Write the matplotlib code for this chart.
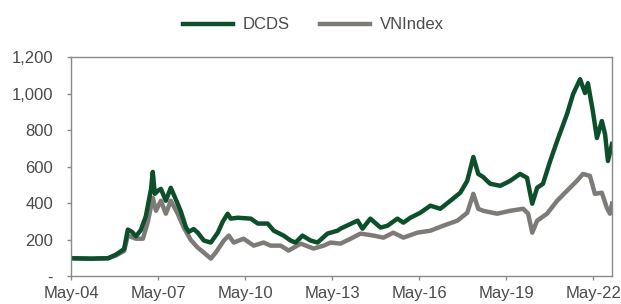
import matplotlib
matplotlib.use("Agg")
import matplotlib.pyplot as plt

plt.rcParams['font.family'] = ['Liberation Sans', 'DejaVu Sans']

# decimal years / rebased index values
dcds_t = [2004.33, 2005.02, 2005.61, 2005.88, 2006.16, 2006.29, 2006.43, 2006.57, 2006.74, 2006.91,
          2007.09, 2007.15, 2007.22, 2007.33, 2007.43, 2007.60, 2007.77, 2007.95, 2008.12, 2008.29,
          2008.39, 2008.56, 2008.70, 2008.91, 2009.15, 2009.39, 2009.56, 2009.73, 2009.84, 2010.08,
          2010.53, 2010.77, 2011.11, 2011.32, 2011.66, 2011.90, 2012.07, 2012.31, 2012.59, 2012.83,
          2013.17, 2013.52, 2013.62, 2014.21, 2014.38, 2014.65, 2015.00, 2015.24, 2015.58, 2015.79,
          2016.03, 2016.37, 2016.72, 2017.06, 2017.41, 2017.75, 2017.99, 2018.20, 2018.37, 2018.54,
          2018.78, 2019.13, 2019.47, 2019.81, 2020.05, 2020.23, 2020.40, 2020.60, 2020.85, 2021.09,
          2021.43, 2021.64, 2021.88, 2022.05, 2022.15, 2022.32, 2022.46, 2022.63, 2022.74, 2022.84,
          2022.98]
dcds_v = [100, 98, 100, 120, 150, 257, 245, 220, 255, 330,
          480, 573, 453, 470, 480, 415, 486, 420, 355, 270,
          245, 260, 240, 197, 186, 240, 300, 344, 317, 322,
          317, 290, 290, 251, 224, 197, 186, 224, 197, 186,
          235, 251, 262, 306, 262, 317, 268, 278, 317, 295,
          322, 349, 388, 371, 415, 459, 524, 655, 562, 545,
          508, 497, 524, 562, 541, 399, 486, 508, 633, 743,
          890, 1000, 1081, 1005, 1059, 906, 759, 852, 781, 633,
          726]

vn_t = [2004.33, 2005.02, 2005.61, 2005.88, 2006.16, 2006.29, 2006.57, 2006.81, 2006.98, 2007.15,
        2007.26, 2007.43, 2007.60, 2007.77, 2008.01, 2008.22, 2008.46, 2008.70, 2008.91, 2009.15,
        2009.32, 2009.60, 2009.77, 2009.94, 2010.28, 2010.63, 2010.97, 2011.21, 2011.56, 2011.83,
        2012.25, 2012.69, 2013.04, 2013.28, 2013.62, 2013.97, 2014.31, 2014.76, 2015.10, 2015.44,
        2015.79, 2016.27, 2016.72, 2017.16, 2017.65, 2017.99, 2018.20, 2018.37, 2018.54, 2019.02,
        2019.47, 2019.92, 2020.09, 2020.23, 2020.40, 2020.74, 2021.09, 2021.43, 2021.77, 2021.98,
        2022.22, 2022.39, 2022.63, 2022.80, 2022.91, 2022.98]
vn_v = [100, 97, 100, 115, 140, 224, 207, 207, 300, 431,
        360, 415, 344, 415, 344, 268, 200, 158, 131, 98,
        131, 197, 224, 186, 207, 169, 186, 169, 169, 142,
        180, 153, 169, 186, 180, 207, 235, 224, 213, 240,
        213, 240, 251, 278, 306, 349, 453, 371, 360, 344,
        360, 371, 344, 240, 306, 344, 415, 470, 524, 562,
        551, 453, 459, 377, 344, 399]

tick_pos = [2004.333, 2007.333, 2010.333, 2013.333, 2016.333, 2019.333, 2022.333]
tick_lab = ["May-04", "May-07", "May-10", "May-13", "May-16", "May-19", "May-22"]
y_ticks = [0, 200, 400, 600, 800, 1000, 1200]

fig = plt.figure(figsize=(6.21, 3.04), dpi=100)
ax = fig.add_axes([0.1143, 0.0905, 0.8712, 0.7204])

l2, = ax.plot(vn_t, vn_v, color='#7d7a78', lw=3.2, label='VNIndex')
l1, = ax.plot(dcds_t, dcds_v, color='#0d4f2b', lw=3.2, label='DCDS')

ax.set_xlim(dcds_t[0], dcds_t[-1])
ax.set_ylim(0, 1200)
ax.set_xticks(tick_pos)
ax.set_xticklabels(tick_lab)
ax.set_yticks(y_ticks)
ax.set_yticklabels(["-" if v == 0 else f"{v:,}" for v in y_ticks])

for s in ax.spines.values():
    s.set_color('#8a8a8a')
    s.set_linewidth(1.0)
ax.tick_params(axis='both', colors='#8a8a8a', length=3, width=1, labelsize=12, labelcolor='#4a4a4a')
ax.tick_params(axis='y', pad=10)
ax.tick_params(axis='x', pad=4)

fig.legend([l1, l2], ['DCDS', 'VNIndex'], loc='center', bbox_to_anchor=(0.505, 0.918),
           ncol=2, frameon=False, fontsize=12, handlelength=3.0, handletextpad=0.6,
           columnspacing=1.8, labelcolor='#4a4a4a')

fig.savefig('out.png', dpi=100)
